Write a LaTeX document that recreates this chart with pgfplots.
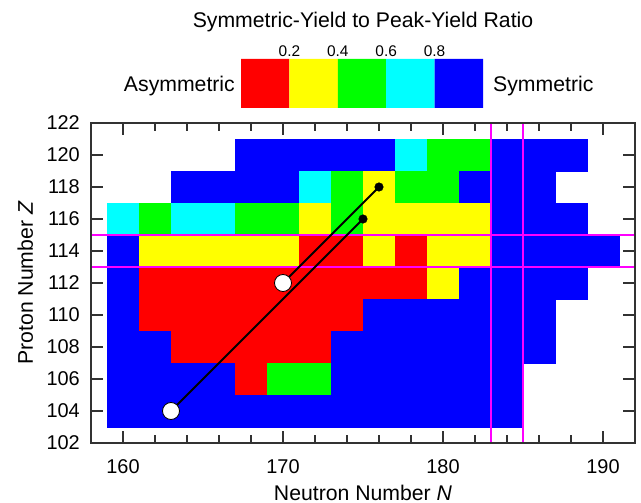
\documentclass[border=0pt]{standalone}
\usepackage{fontspec}
\setmainfont{Liberation Sans}
\usepackage{pgfplots}
\pgfplotsset{compat=1.18}
\usepackage{pgfplotstable}

\definecolor{cR}{RGB}{255,0,0}
\definecolor{cY}{RGB}{255,255,0}
\definecolor{cG}{RGB}{0,255,0}
\definecolor{cC}{RGB}{0,255,255}
\definecolor{cB}{RGB}{0,0,255}
\definecolor{cM}{RGB}{255,0,255}
\definecolor{axgray}{RGB}{50,50,50}

\pgfplotstableread{
N Z c
168 120 b
170 120 b
172 120 b
174 120 b
176 120 b
178 120 c
180 120 g
182 120 g
184 120 b
186 120 b
188 120 b
164 118 b
166 118 b
168 118 b
170 118 b
172 118 c
174 118 g
176 118 y
178 118 g
180 118 g
182 118 b
184 118 b
186 118 b
160 116 c
162 116 g
164 116 c
166 116 c
168 116 g
170 116 g
172 116 y
174 116 g
176 116 y
178 116 y
180 116 y
182 116 y
184 116 b
186 116 b
188 116 b
160 114 b
162 114 y
164 114 y
166 114 y
168 114 y
170 114 y
172 114 r
174 114 r
176 114 y
178 114 r
180 114 y
182 114 y
184 114 b
186 114 b
188 114 b
190 114 b
160 112 b
162 112 r
164 112 r
166 112 r
168 112 r
170 112 r
172 112 r
174 112 r
176 112 r
178 112 r
180 112 y
182 112 b
184 112 b
186 112 b
188 112 b
160 110 b
162 110 r
164 110 r
166 110 r
168 110 r
170 110 r
172 110 r
174 110 r
176 110 b
178 110 b
180 110 b
182 110 b
184 110 b
186 110 b
160 108 b
162 108 b
164 108 r
166 108 r
168 108 r
170 108 r
172 108 r
174 108 b
176 108 b
178 108 b
180 108 b
182 108 b
184 108 b
186 108 b
160 106 b
162 106 b
164 106 b
166 106 b
168 106 r
170 106 g
172 106 g
174 106 b
176 106 b
178 106 b
180 106 b
182 106 b
184 106 b
160 104 b
162 104 b
164 104 b
166 104 b
168 104 b
170 104 b
172 104 b
174 104 b
176 104 b
178 104 b
180 104 b
182 104 b
184 104 b
}\cells

\begin{document}
\begin{tikzpicture}
\useasboundingbox (0,0) rectangle (641bp,503bp);
\begin{axis}[
  at={(91bp,60bp)}, anchor=south west,
  scale only axis, width=544bp, height=320bp,
  xmin=158, xmax=192, ymin=102, ymax=122,
  xtick={160,170,180,190}, minor x tick num=4,
  ytick={102,104,...,122},
  tick align=inside,
  major tick length=12bp, minor tick length=8bp,
  axis on top,
  clip marker paths=true,
  axis line style={axgray, line width=1.5bp},
  every tick/.style={axgray, line width=1.2bp},
  /pgf/number format/assume math mode=true,
  tick label style={font=\fontsize{20}{24}\selectfont},
  xticklabel style={anchor=base, yshift=-30bp},
  yticklabel style={anchor=east, inner sep=0pt, xshift=-11bp},
  xlabel={Neutron Number \textit{N}},
  ylabel={Proton Number \textit{Z}},
  label style={font=\fontsize{21.3}{25}\selectfont},
  xlabel style={at={(rel axis cs:0.5,0)}, anchor=base, yshift=-57bp},
  ylabel style={at={([xshift=-58bp]rel axis cs:0,0.5)}, anchor=base},
]
\addplot[scatter, only marks, mark=square*, mark size=16bp,
  scatter src=explicit symbolic,
  scatter/classes={
    r={mark=square*, draw=cR, fill=cR, line width=0.5bp},
    y={mark=square*, draw=cY, fill=cY, line width=0.5bp},
    g={mark=square*, draw=cG, fill=cG, line width=0.5bp},
    c={mark=square*, draw=cC, fill=cC, line width=0.5bp},
    b={mark=square*, draw=cB, fill=cB, line width=0.5bp}}]
  table[x=N, y=Z, meta=c] {\cells};
\addplot[cM, line width=2.8bp, mark=none] coordinates {(183,102) (183,122)};
\addplot[cM, line width=2.8bp, mark=none] coordinates {(185,102) (185,122)};
\addplot[cM, line width=2.8bp, mark=none] coordinates {(158,113) (192,113)};
\addplot[cM, line width=2.8bp, mark=none] coordinates {(158,115) (192,115)};
\addplot[black, line width=1.8bp, mark=none] coordinates {(163,104) (175,116)};
\addplot[black, line width=1.8bp, mark=none] coordinates {(170,112) (176,118)};
\addplot[only marks, mark=*, mark size=8.5bp, mark options={fill=white, draw=black, line width=0.8bp}] coordinates {(163,104) (170,112)};
\addplot[only marks, mark=*, mark size=4.3bp, mark options={fill=black, draw=black}] coordinates {(175,116) (176,118)};
\end{axis}

\begin{axis}[
  at={(241bp,395bp)}, anchor=south west,
  scale only axis, width=242bp, height=49bp,
  xmin=0, xmax=1, ymin=0, ymax=1,
  hide y axis,
  axis line style={draw=none},
  xtick={0.2,0.4,0.6,0.8},
  xticklabels={0.2,0.4,0.6,0.8},
  major tick length=0pt, tick style={draw=none},
  xticklabel style={anchor=base, yshift=51.5bp, font=\fontsize{15.5}{18}\selectfont},
]
\addplot[fill=cR, draw=none] coordinates {(0,0) (0.2,0) (0.2,1) (0,1) (0,0)};
\addplot[fill=cY, draw=none] coordinates {(0.2,0) (0.4,0) (0.4,1) (0.2,1) (0.2,0)};
\addplot[fill=cG, draw=none] coordinates {(0.4,0) (0.6,0) (0.6,1) (0.4,1) (0.4,0)};
\addplot[fill=cC, draw=none] coordinates {(0.6,0) (0.8,0) (0.8,1) (0.6,1) (0.6,0)};
\addplot[fill=cB, draw=none] coordinates {(0.8,0) (1,0) (1,1) (0.8,1) (0.8,0)};
\end{axis}

\node[anchor=base, inner sep=0pt, font=\fontsize{21.3}{25}\selectfont] at (363bp,475bp) {Symmetric-Yield to Peak-Yield Ratio};
\node[anchor=base east, inner sep=0pt, font=\fontsize{21.3}{25}\selectfont] at (235bp,411.5bp) {Asymmetric};
\node[anchor=base west, inner sep=0pt, font=\fontsize{21.3}{25}\selectfont] at (493bp,411.5bp) {Symmetric};
\end{tikzpicture}
\end{document}
